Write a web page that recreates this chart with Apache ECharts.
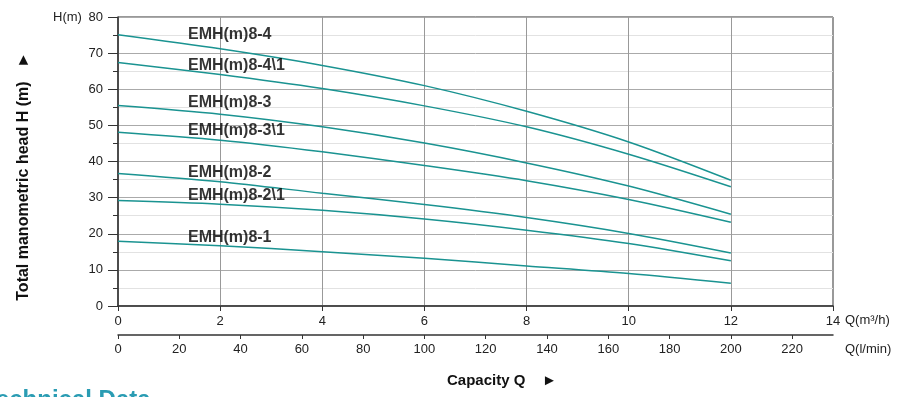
<!DOCTYPE html>
<html>
<head>
<meta charset="utf-8">
<script src="https://cdn.jsdelivr.net/npm/echarts@6/dist/echarts.min.js"></script>
<style>
  html, body { margin: 0; padding: 0; background: #fff; }
  #chart { width: 900px; height: 397px; }
</style>
</head>
<body>
<div id="chart"></div>
<script>
// capacity Q in m3/h
var flow = [0, 2, 4, 6, 8, 10, 12];
var models = ['EMH(m)8-4', 'EMH(m)8-4\\1', 'EMH(m)8-3', 'EMH(m)8-3\\1', 'EMH(m)8-2', 'EMH(m)8-2\\1', 'EMH(m)8-1'];
// head H in m, one array per model
var h84  = [75.1, 71.2, 66.6, 61.0, 53.9, 45.4, 34.8];
var h841 = [67.4, 64.1, 60.2, 55.4, 49.6, 42.0, 33.0];
var h83  = [55.5, 53.1, 49.6, 45.1, 39.6, 33.2, 25.4];
var h831 = [48.1, 45.9, 42.7, 38.9, 34.7, 29.5, 23.2];
var h82  = [36.7, 34.4, 31.2, 28.1, 24.5, 20.1, 14.7];
var h821 = [29.2, 28.2, 26.5, 24.1, 21.0, 17.3, 12.5];
var h81  = [17.9, 16.7, 15.0, 13.2, 11.1, 9.0, 6.3];
var heads = [h84, h841, h83, h831, h82, h821, h81];
// where each model name sits (Q, H)
var labelAt = [[1.36, 75.2], [1.36, 66.6], [1.36, 56.4], [1.36, 48.6], [1.36, 37.0], [1.36, 30.6], [1.36, 19.0]];

var myChart = echarts.init(document.getElementById('chart'));

var series = models.map(function (name, i) {
    return {
        name: name,
        type: 'line',
        xAxisIndex: 0,
        smooth: 0.3,
        symbol: 'none',
        lineStyle: { color: '#1a9391', width: 1.5 },
        data: flow.map(function (q, j) { return [q, heads[i][j]]; })
    };
});

// model names, one text per curve
series.push({
    name: 'labels',
    type: 'scatter',
    xAxisIndex: 0,
    symbolSize: 1,
    itemStyle: { color: 'rgba(0,0,0,0)' },
    data: labelAt.map(function (p, i) { return { value: p, name: models[i] }; }),
    label: {
        show: true,
        formatter: '{b}',
        position: 'right',
        distance: 0,
        color: '#000',
        fontFamily: 'Liberation Sans',
        fontWeight: 'bold',
        fontSize: 16
    },
    z: 5
});

var option = {
    backgroundColor: '#fff',
    animation: false,
    textStyle: { fontFamily: 'Liberation Sans' },
    grid: {
        left: 118, right: 67, top: 17, bottom: 91,
        outerBoundsMode: 'none',
        containLabel: false,
        show: true, borderColor: '#333', borderWidth: 1
    },
    xAxis: [
        {
            type: 'value', min: 0, max: 14, interval: 2,
            axisLine: { lineStyle: { color: '#333', width: 1.5 } },
            axisTick: { length: 5, lineStyle: { color: '#333' } },
            axisLabel: { color: '#222', fontSize: 13, margin: 9 },
            splitLine: { show: true, lineStyle: { color: '#999', width: 1 } }
        },
        {
            type: 'value', min: 0, max: 14 * 200 / 12, interval: 20,
            position: 'bottom', offset: 29,
            axisLine: { lineStyle: { color: '#333', width: 1.5 } },
            axisTick: { length: 4, lineStyle: { color: '#333' } },
            axisLabel: { color: '#222', fontSize: 13, margin: 8, showMaxLabel: false },
            splitLine: { show: false }
        }
    ],
    yAxis: {
        type: 'value', min: 0, max: 80, interval: 10,
        name: 'Total manometric head H (m)   ►',
        nameLocation: 'middle', nameGap: 86, nameRotate: 90,
        nameTextStyle: { color: '#111', fontSize: 16, fontWeight: 'bold', padding: [0, 30, 0, 0] },
        axisLine: { show: true, lineStyle: { color: '#333', width: 1.5 } },
        axisTick: { length: 10, lineStyle: { color: '#333' } },
        minorTick: { show: true, splitNumber: 2, length: 5, lineStyle: { color: '#333' } },
        axisLabel: { color: '#222', fontSize: 13, margin: 15 },
        splitLine: { show: true, lineStyle: { color: '#aaa', width: 1 } },
        minorSplitLine: { show: true, lineStyle: { color: '#e2e2e2', width: 1 } }
    },
    graphic: [
        { type: 'text', x: 53, y: 11, style: { text: 'H(m)', fill: '#222', fontSize: 13, fontFamily: 'Liberation Sans', verticalAlign: 'top' } },
        { type: 'text', x: 845, y: 314, style: { text: 'Q(m³/h)', fill: '#222', fontSize: 13, fontFamily: 'Liberation Sans', verticalAlign: 'top' } },
        { type: 'text', x: 845, y: 343, style: { text: 'Q(l/min)', fill: '#222', fontSize: 13, fontFamily: 'Liberation Sans', verticalAlign: 'top' } },
        { type: 'text', x: 447, y: 373, style: { text: 'Capacity Q    ►', fill: '#111', fontSize: 15, fontWeight: 'bold', fontFamily: 'Liberation Sans', verticalAlign: 'top' } },
        { type: 'text', x: -17, y: 388, style: { text: 'Technical Data', fill: '#2a9cb3', fontSize: 24, fontWeight: 'bold', fontFamily: 'Liberation Sans', verticalAlign: 'top' } }
    ],
    series: series
};

myChart.setOption(option);
</script>
</body>
</html>
